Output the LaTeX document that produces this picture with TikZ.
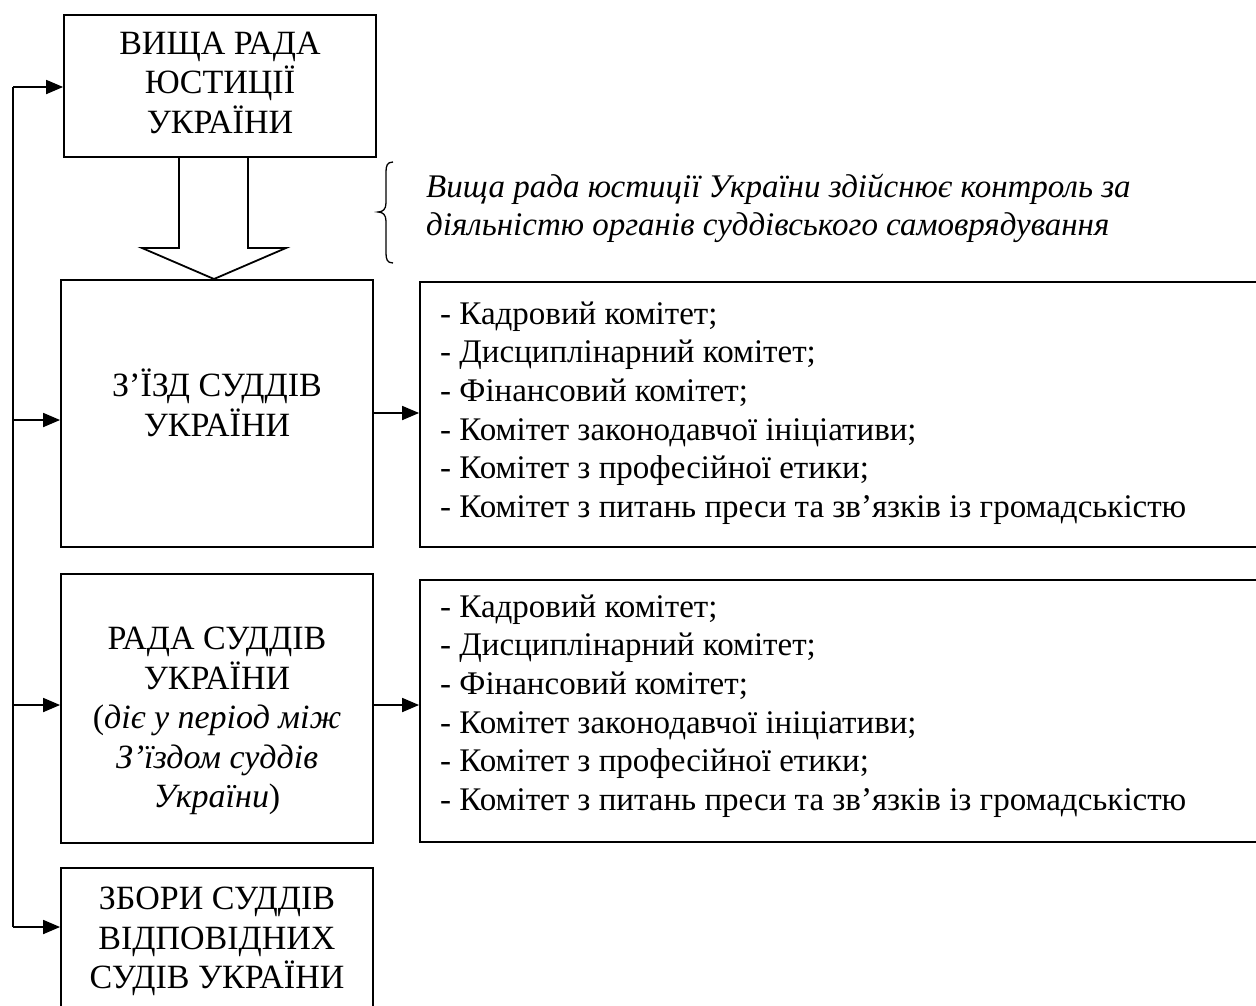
\documentclass[tikz,border=0pt]{standalone}
\usepackage{fontspec}
\setmainfont{Liberation Serif}
\usetikzlibrary{arrows.meta}
\begin{document}
\begin{tikzpicture}[x=1pt,y=-1pt,
  box/.style={draw, line width=1.8pt, inner sep=0pt},
  maintxt/.style={font=\fontsize{34}{39.5}\selectfont, align=center, inner sep=0pt},
  listtxt/.style={font=\fontsize{33}{38.6}\selectfont, align=left, inner sep=0pt, anchor=west},
  notetxt/.style={font=\fontsize{33}{38}\selectfont\itshape, align=left, inner sep=0pt, anchor=west},
  arr/.style={line width=1.8pt, -{Triangle[length=17pt,width=14pt]}},
  outline/.style={line width=1.8pt, line join=miter}]
\useasboundingbox (0,0) rectangle (1256,1005);
\begin{scope}
\clip (0,0) rectangle (1256,1005);
% boxes
\node[box, minimum width=312pt, minimum height=142pt] (vrju) at (220,86) {};
\node[maintxt] (vrjut) at (220,82.5) {ВИЩА РАДА\\ЮСТИЦІЇ\\УКРАЇНИ};
\node[box, minimum width=312pt, minimum height=267pt] (zjizd) at (217,413.5) {};
\node[maintxt] (zjizdt) at (217,403) {З’ЇЗД СУДДІВ\\УКРАЇНИ};
\node[box, minimum width=312pt, minimum height=269pt] (rada) at (217,708.5) {};
\node[maintxt] (radat) at (217,721) {РАДА СУДДІВ\\УКРАЇНИ\\(\textit{діє у період між}\\\textit{З’їздом суддів}\\\textit{України})};
\node[box, minimum width=312pt, minimum height=144pt] (zbory) at (217,940) {};
\node[maintxt] (zboryt) at (217,941.5) {ЗБОРИ СУДДІВ\\ВІДПОВІДНИХ\\СУДІВ УКРАЇНИ};
\node[box, minimum width=842pt, minimum height=265pt] (kom1) at (841,414.5) {};
\node[listtxt] (kom1t) at (440,413) {- Кадровий комітет;\\- Дисциплінарний комітет;\\- Фінансовий комітет;\\- Комітет законодавчої ініціативи;\\- Комітет з професійної етики;\\- Комітет з питань преси та зв’язків із громадськістю};
\node[box, minimum width=842pt, minimum height=262pt] (kom2) at (841,711) {};
\node[listtxt] (kom2t) at (440,706) {- Кадровий комітет;\\- Дисциплінарний комітет;\\- Фінансовий комітет;\\- Комітет законодавчої ініціативи;\\- Комітет з професійної етики;\\- Комітет з питань преси та зв’язків із громадськістю};
% note
\node[notetxt] (note) at (426,208) {Вища рада юстиції України здійснює контроль за\\діяльністю органів суддівського самоврядування};
\draw[line width=1.3pt] (393,162) .. controls (387,162) and (386,166) .. (386,172) -- (386,203)
  .. controls (386,209) and (383,212) .. (378,212) .. controls (383,212) and (386,215) .. (386,221)
  -- (386,253) .. controls (386,259) and (387,263) .. (393,263);
% hollow arrow
\draw[outline] (179,157) -- (179,248) -- (142,248) -- (214,279) -- (286,248) -- (248,248) -- (248,157);
% spine
\coordinate (s1) at (13,87);
\coordinate (s2) at (13,420);
\coordinate (s3) at (13,705);
\coordinate (s4) at (13,927);
\draw[line width=1.8pt] (s4) -- (s1);
\draw[arr] (s1) -- (s1 -| vrju.west);
\draw[arr] (s2) -- (s2 -| zjizd.west);
\draw[arr] (s3) -- (s3 -| rada.west);
\draw[arr] (s4) -- (s4 -| zbory.west);
\coordinate (r1) at (373,413);
\coordinate (r2) at (373,705);
\draw[arr] (r1) -- (r1 -| kom1.west);
\draw[arr] (r2) -- (r2 -| kom2.west);
\end{scope}
\end{tikzpicture}
\end{document}
